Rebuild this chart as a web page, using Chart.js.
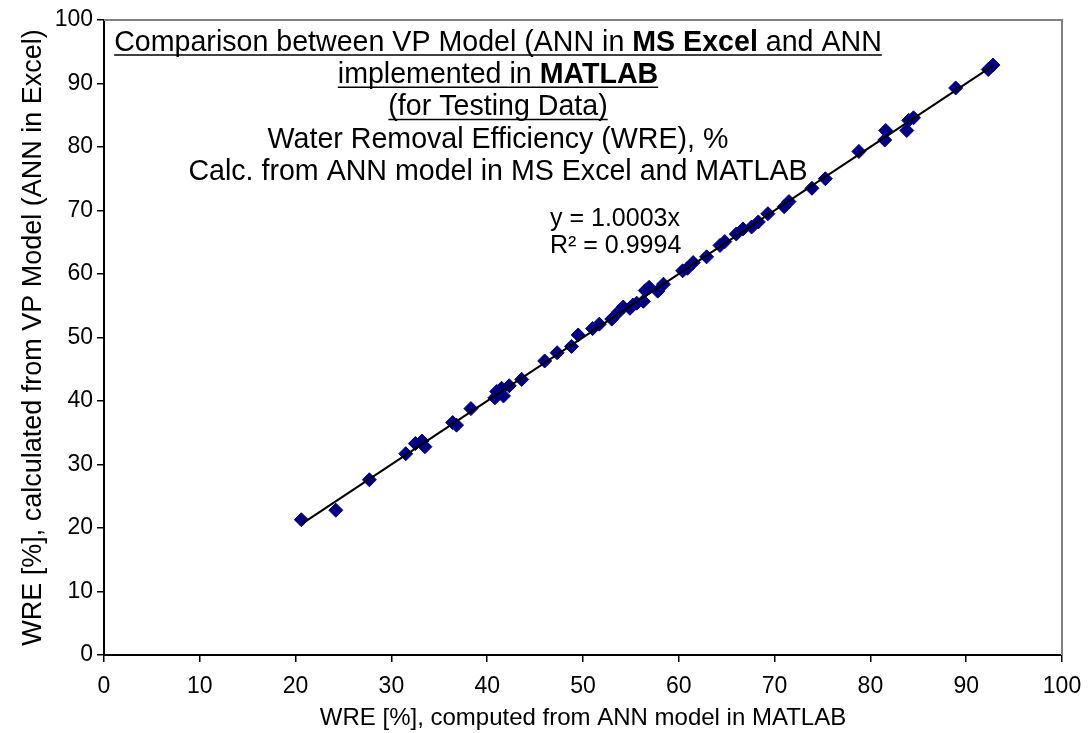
<!DOCTYPE html>
<html>
<head>
<meta charset="utf-8">
<script src="https://cdn.jsdelivr.net/npm/chart.js@4.4.6/dist/chart.umd.min.js"></script>
<style>
  html, body { margin: 0; padding: 0; background: #fff; }
  #wrap { width: 1088px; height: 733px; }
</style>
</head>
<body>
<div id="wrap"><canvas id="chart" width="1088" height="733"></canvas></div>
<script>
// WRE computed in MATLAB (x) vs. VP model / ANN in Excel (y), testing data
const matlabWre = [
  20.6, 24.2, 27.7, 31.5, 32.5, 33.2, 33.5, 36.4, 36.8, 38.3,
  40.8, 41.0, 41.5, 41.7, 42.3, 43.6, 46.0, 47.3, 48.8, 49.5,
  51.0, 51.7, 53.0, 53.7, 54.2, 54.9, 55.2, 55.6, 56.3, 56.5,
  56.9, 57.8, 58.4, 60.4, 60.9, 61.5, 62.9, 64.3, 64.8, 66.0,
  66.7, 67.6, 68.3, 69.3, 71.0, 71.5, 73.9, 75.3, 78.8, 81.5,
  81.6, 83.8, 84.0, 84.5, 88.9, 92.3, 92.8
];
const excelWre = [
  21.3, 22.8, 27.6, 31.7, 33.3, 33.7, 32.8, 36.6, 36.2, 38.8,
  40.5, 41.5, 42.0, 40.8, 42.4, 43.4, 46.3, 47.6, 48.6, 50.4,
  51.4, 52.1, 52.9, 54.0, 54.8, 54.6, 55.1, 55.4, 55.7, 57.4,
  57.9, 57.3, 58.4, 60.5, 60.9, 61.8, 62.7, 64.5, 65.1, 66.3,
  67.1, 67.4, 68.2, 69.5, 70.6, 71.4, 73.5, 75.0, 79.3, 81.1,
  82.6, 82.6, 84.2, 84.6, 89.3, 92.2, 92.9
];
const axisTicks = [0, 10, 20, 30, 40, 50, 60, 70, 80, 90, 100];
const trendSlope = 1.0003;
const trendLabel = 'y = 1.0003x';
const r2Label = 'R\u00b2 = 0.9994';

const titleLines = [
  { parts: [['Comparison between VP Model (ANN in ', false], ['MS Excel', true], [' and ANN', false]], underline: true },
  { parts: [['implemented in ', false], ['MATLAB', true]], underline: true },
  { parts: [['(for Testing Data)', false]], underline: true },
  { parts: [['Water Removal Efficiency (WRE), %', false]], underline: false },
  { parts: [['Calc. from ANN model in MS Excel and MATLAB', false]], underline: false }
];

const FONT = '"Liberation Sans", Arial, sans-serif';
const points = matlabWre.map((x, i) => ({ x, y: excelWre[i] }));
const xMin = Math.min(...matlabWre), xMax = Math.max(...matlabWre);
const trend = [{ x: xMin, y: trendSlope * xMin }, { x: xMax, y: trendSlope * xMax }];

const overlay = {
  id: 'overlay',
  beforeDatasetsDraw(chart) {
    const { ctx, chartArea: a } = chart;
    ctx.save();
    ctx.strokeStyle = '#808080';
    ctx.lineWidth = 2;
    ctx.beginPath();
    ctx.moveTo(a.left, a.top);
    ctx.lineTo(a.right, a.top);
    ctx.lineTo(a.right, a.bottom);
    ctx.stroke();
    ctx.restore();
  },
  afterDraw(chart) {
    const { ctx } = chart;
    ctx.save();
    ctx.fillStyle = '#000';
    ctx.strokeStyle = '#000';
    ctx.textBaseline = 'middle';
    const cx = 498;
    titleLines.forEach((line, i) => {
      const y = 43 + i * 32.3;
      let total = 0;
      line.parts.forEach(([t, b]) => {
        ctx.font = (b ? 'bold ' : '') + '28.6px ' + FONT;
        total += ctx.measureText(t).width;
      });
      let x = cx - total / 2;
      const start = x;
      line.parts.forEach(([t, b]) => {
        ctx.font = (b ? 'bold ' : '') + '28.6px ' + FONT;
        ctx.fillText(t, x, y);
        x += ctx.measureText(t).width;
      });
      if (line.underline) {
        ctx.lineWidth = 1.5;
        ctx.beginPath();
        ctx.moveTo(start, y + 12);
        ctx.lineTo(x, y + 12);
        ctx.stroke();
      }
    });
    ctx.font = '25px ' + FONT;
    ctx.fillText(trendLabel, 550, 219);
    ctx.fillText(r2Label, 550, 246);
    ctx.restore();
  }
};

new Chart(document.getElementById('chart'), {
  type: 'scatter',
  data: {
    datasets: [
      {
        label: 'Linear trend',
        data: trend,
        showLine: true,
        borderColor: '#000',
        borderWidth: 2,
        pointRadius: 0,
        fill: false
      },
      {
        label: 'Testing data',
        data: points,
        pointStyle: 'rectRot',
        pointRadius: 7,
        pointBackgroundColor: '#000080',
        pointBorderColor: '#000080',
        pointBorderWidth: 1
      }
    ]
  },
  options: {
    responsive: false,
    devicePixelRatio: 1,
    animation: false,
    layout: { padding: { top: 20, right: 26, left: 0, bottom: 0 } },
    plugins: { legend: { display: false }, tooltip: { enabled: false } },
    scales: {
      x: {
        type: 'linear',
        min: 0,
        max: 100,
        afterBuildTicks: s => { s.ticks = axisTicks.map(v => ({ value: v })); },
        afterFit: s => { s.height = 78; s.paddingLeft = 0; s.paddingRight = 0; },
        border: { color: '#000', width: 2 },
        grid: { drawOnChartArea: false, color: '#000', tickLength: 7, lineWidth: 1.5 },
        ticks: { color: '#000', font: { family: FONT, size: 23 }, padding: 11, maxRotation: 0 },
        title: { display: true, text: 'WRE [%], computed from ANN model in MATLAB', color: '#000', font: { family: FONT, size: 24 }, padding: { top: 4, bottom: 0 } }
      },
      y: {
        type: 'linear',
        min: 0,
        max: 100,
        afterBuildTicks: s => { s.ticks = axisTicks.map(v => ({ value: v })); },
        afterFit: s => { s.width = 104; s.paddingTop = 0; s.paddingBottom = 0; },
        border: { color: '#000', width: 2 },
        grid: { drawOnChartArea: false, color: '#000', tickLength: 7, lineWidth: 1.5 },
        ticks: { color: '#000', font: { family: FONT, size: 23 }, padding: 4 },
        title: { display: true, text: 'WRE [%], calculated from VP Model (ANN in Excel)', color: '#000', font: { family: FONT, size: 27 }, padding: { top: 17, bottom: 0 } }
      }
    }
  },
  plugins: [overlay]
});
</script>
</body>
</html>
